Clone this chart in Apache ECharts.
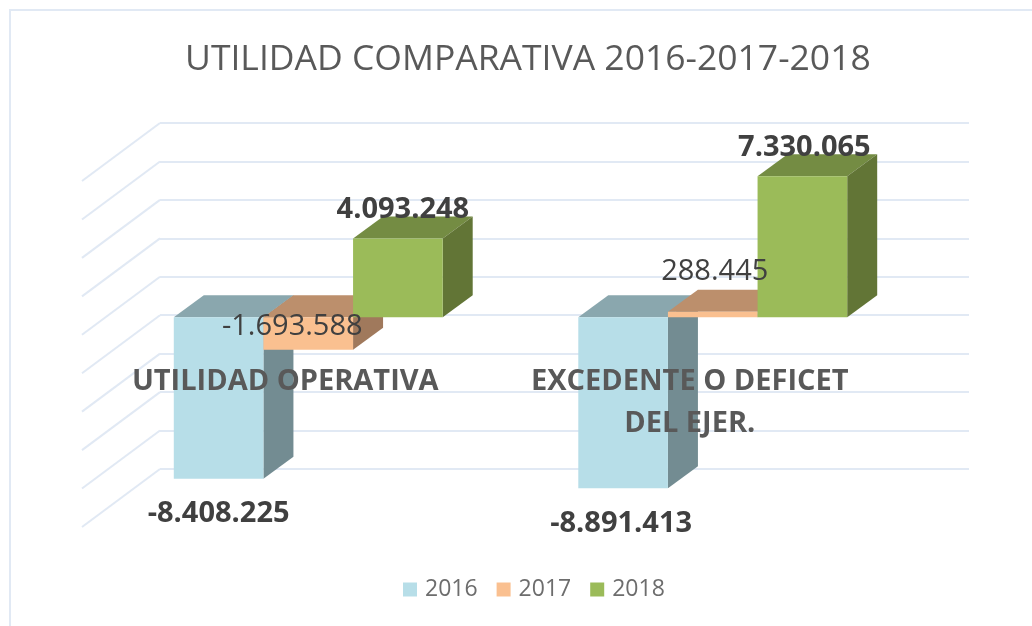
<!DOCTYPE html>
<html>
<head>
<meta charset="utf-8">
<title>Utilidad comparativa</title>
<style>
html, body { margin: 0; padding: 0; background: #fff; }
#chart { width: 1032px; height: 626px; }
</style>
<script src="https://cdn.jsdelivr.net/npm/echarts@6/dist/echarts.min.js"></script>
</head>
<body>
<div id="chart"></div>
<script>
var categories = ['UTILIDAD OPERATIVA', 'EXCEDENTE O DEFICET\nDEL EJER.'];
var years = ['2016', '2017', '2018'];
var values2016 = [-8408225, -8891413];
var values2017 = [-1693588, 288445];
var values2018 = [4093248, 7330065];
var wallTicks = [-8000000, -6000000, -4000000, -2000000, 0, 2000000, 4000000, 6000000, 8000000, 10000000];

var FONT = '"Open Sans", "Noto Sans", sans-serif';
var TEXT = '#595959';
var LINE = '#e1e9f4';

function fmt(v) {
    return String(v).replace(/\B(?=(\d{3})+(?!\d))/g, '.');
}

// front face of a bar, in pixels, from the axis scale
function barRect(api, index) {
    var cat = api.value(0);
    var val = api.value(1);
    var w = api.size([1, 0])[0] * 0.2216;
    var base = api.coord([cat, 0]);
    var end = api.coord([cat, val]);
    var y0 = base[1] + 2;
    var y1 = end[1] + 2;
    return {
        x: base[0] - 54 + (index - 1.5) * w,
        w: w,
        top: Math.min(y0, y1),
        bot: Math.max(y0, y1)
    };
}

function seriesData(values) {
    return values.map(function (v, i) { return [i, v]; });
}

// fake 3d box
function boxSeries(name, index, values, colors) {
    return {
        name: name,
        type: 'custom',
        itemStyle: { color: colors[0] },
        z: 3 + index,
        encode: { x: 0, y: 1 },
        data: seriesData(values),
        clip: false,
        renderItem: function (params, api) {
            var r = barRect(api, index);
            var dx = 30, dy = -22;
            return {
                type: 'group',
                children: [
                    { type: 'polygon', shape: { points: [[r.x, r.top], [r.x + dx, r.top + dy], [r.x + r.w + dx, r.top + dy], [r.x + r.w, r.top]] }, style: { fill: colors[1] } },
                    { type: 'polygon', shape: { points: [[r.x + r.w, r.top], [r.x + r.w + dx, r.top + dy], [r.x + r.w + dx, r.bot + dy], [r.x + r.w, r.bot]] }, style: { fill: colors[2] } },
                    { type: 'rect', shape: { x: r.x, y: r.top, width: r.w, height: r.bot - r.top }, style: { fill: colors[0] } }
                ]
            };
        }
    };
}

// value labels sit above the bars and the category text
function labelSeries(index, values, labelPos, labelWeight) {
    return {
        type: 'custom',
        silent: true,
        z: 30,
        encode: { x: 0, y: 1 },
        data: seriesData(values),
        clip: false,
        renderItem: function (params, api) {
            var r = barRect(api, index);
            var val = api.value(1);
            var lp = labelPos[api.value(0)];
            return {
                type: 'text',
                x: r.x + r.w / 2 + lp[0],
                y: (val < 0 ? r.bot : r.top) + lp[1],
                style: {
                    text: fmt(val),
                    font: labelWeight + ' 29px ' + FONT,
                    fill: '#404040',
                    align: 'center',
                    verticalAlign: 'middle'
                }
            };
        }
    };
}

var myChart = echarts.init(document.getElementById('chart'));
var option = {
    backgroundColor: '#fff',
    animation: false,
    title: {
        text: 'UTILIDAD COMPARATIVA 2016-2017-2018',
        left: 180,
        top: 37,
        textStyle: { fontFamily: FONT, fontSize: 35.5, fontWeight: 'normal', color: TEXT }
    },
    legend: {
        data: years,
        left: 398,
        top: 573,
        icon: 'rect',
        itemWidth: 14,
        itemHeight: 14,
        itemGap: 19,
        textStyle: { fontFamily: FONT, fontSize: 23, color: '#6d6d6d', padding: [0, 0, 0, 3] }
    },
    graphic: [{
        type: 'rect',
        shape: { x: 10, y: 10, width: 1100, height: 700 },
        style: { fill: 'none', stroke: LINE, lineWidth: 2 },
        silent: true
    }],
    grid: { left: 160, right: 63, top: 123, bottom: 157 },
    xAxis: {
        type: 'category',
        data: categories,
        z: 20,
        axisLine: { show: false },
        axisTick: { show: false },
        axisLabel: {
            interval: 0,
            margin: -108,
            padding: [0, 154, 0, 0],
            lineHeight: 42,
            fontFamily: FONT,
            fontSize: 29,
            fontWeight: 'bold',
            color: TEXT
        }
    },
    yAxis: {
        type: 'value',
        min: -8000000,
        max: 10000000,
        interval: 2000000,
        axisLine: { show: false },
        axisTick: { show: false },
        axisLabel: { show: false },
        splitLine: { lineStyle: { color: LINE, width: 2 } }
    },
    series: [
        {
            // left wall of the 3d box
            type: 'custom',
            silent: true,
            z: 1,
            clip: false,
            encode: { y: 0 },
            data: wallTicks.map(function (v) { return [v]; }),
            renderItem: function (params, api) {
                var p = api.coord([0, api.value(0)]);
                var x = params.coordSys.x;
                return {
                    type: 'line',
                    shape: { x1: x, y1: p[1], x2: x - 78, y2: p[1] + 58 },
                    style: { stroke: LINE, lineWidth: 2 }
                };
            }
        },
        boxSeries('2016', 0, values2016, ['#b7dee8', '#8aa7ae', '#738c92']),
        boxSeries('2017', 1, values2017, ['#fac090', '#bc8f6c', '#a0795c']),
        boxSeries('2018', 2, values2018, ['#9bbb59', '#748c43', '#627536']),
        labelSeries(0, values2016, [[0, 35], [-2, 36]], 'bold'),
        labelSeries(1, values2017, [[-16, -23], [2, -40]], 'normal'),
        labelSeries(2, values2018, [[5, -29], [2, -29]], 'bold')
    ]
};
myChart.setOption(option);
</script>
</body>
</html>
